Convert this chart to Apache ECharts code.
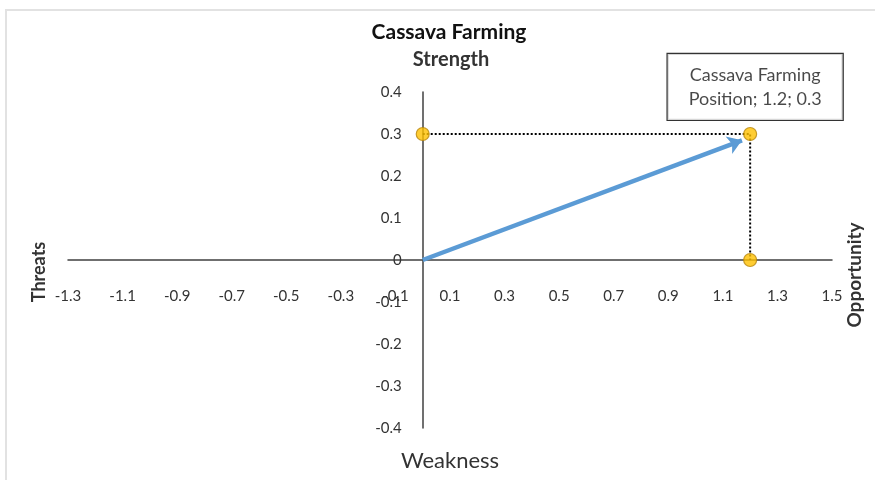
<!DOCTYPE html>
<html>
<head>
<meta charset="utf-8">
<script src="https://cdn.jsdelivr.net/npm/echarts@6/dist/echarts.min.js"></script>
<style>html,body{margin:0;padding:0;background:#fff}#c{width:875px;height:480px}</style>
</head>
<body>
<div id="c"></div>
<script>
// Data
const chartTitle = 'Cassava Farming';
const pointName = 'Cassava Farming Position';
const posX = [1.2];
const posY = [0.3];
const guideX = [0, 1.2, 1.2];
const guideY = [0.3, 0.3, 0];
const arrowFrom = [0, 0];
const arrowTo = [1.17, 0.285];
const xRange = [-1.3, 1.5];
const yRange = [-0.4, 0.4];
const axisNames = { top: 'Strength', bottom: 'Weakness', left: 'Threats', right: 'Opportunity' };

const FONT = 'Lato, "Open Sans", sans-serif';
const chart = echarts.init(document.getElementById('c'));

const W = 875, H = 480;
const G = { left: 68, right: 43, top: 92, bottom: 52 };
const gw = W - G.left - G.right, gh = H - G.top - G.bottom;
// place axes through the origin (onZero equivalent that also moves labels)
const xAxisOffset = -gh * (0 - yRange[0]) / (yRange[1] - yRange[0]);
const yAxisOffset = -gw * (0 - xRange[0]) / (xRange[1] - xRange[0]);

const guideData = guideX.map((x, i) => [x, guideY[i]]);
const pointData = guideData.map((p) => {
  const isMain = p[0] === posX[0] && p[1] === posY[0];
  return isMain ? {
    value: p,
    label: {
      show: true,
      position: 'top',
      distance: 7,
      offset: [5, 0],
      formatter: () => 'Cassava Farming\nPosition; ' + posX[0] + '; ' + posY[0],
      fontFamily: FONT,
      fontSize: 18,
      lineHeight: 24,
      color: '#1a1a1a',
      align: 'center',
      width: 135,
      backgroundColor: '#ffffff',
      borderColor: '#000',
      borderWidth: 1.2,
      padding: [9, 20, 9, 20]
    }
  } : { value: p };
});

const option = {
  backgroundColor: '#fff',
  animation: false,
  grid: { left: G.left, right: G.right, top: G.top, bottom: G.bottom, containLabel: false },
  xAxis: {
    type: 'value',
    position: 'bottom',
    offset: xAxisOffset,
    min: xRange[0], max: xRange[1], interval: 0.1,
    axisLine: { show: true, onZero: false, lineStyle: { color: '#404040', width: 1.5 } },
    axisTick: { show: false },
    splitLine: { show: false },
    axisLabel: {
      margin: 29,
      fontFamily: FONT, fontSize: 15, color: '#333',
      showMinLabel: true, showMaxLabel: true,
      formatter: (v) => (Math.abs(Math.round(v * 10)) % 2 === 1 ? v.toFixed(1) : '')
    }
  },
  yAxis: {
    type: 'value',
    position: 'left',
    offset: yAxisOffset,
    min: yRange[0], max: yRange[1], interval: 0.1,
    axisLine: { show: true, onZero: false, lineStyle: { color: '#404040', width: 1.5 } },
    axisTick: { show: false },
    splitLine: { show: false },
    axisLabel: {
      margin: 21,
      fontFamily: FONT, fontSize: 15, color: '#333',
      formatter: (v) => (Math.abs(v) < 1e-9 ? '0' : v.toFixed(1))
    }
  },
  graphic: [
    { type: 'rect', z: -10, shape: { x: 6, y: 10, width: 900, height: 500 }, style: { fill: 'none', stroke: '#e2e2e2', lineWidth: 2 } },
    { type: 'text', x: 449, y: 32, style: { text: chartTitle, font: 'bold 21px ' + FONT, fill: '#111', textAlign: 'center', textVerticalAlign: 'middle' } },
    { type: 'text', x: 451, y: 60, style: { text: axisNames.top, font: 'bold 20px ' + FONT, fill: '#333', textAlign: 'center', textVerticalAlign: 'middle' } },
    { type: 'text', x: 450, y: 461, style: { text: axisNames.bottom, font: '22px ' + FONT, fill: '#333', textAlign: 'center', textVerticalAlign: 'middle' } },
    { type: 'text', x: 39, y: 272, rotation: Math.PI / 2, style: { text: axisNames.left, font: 'bold 18px ' + FONT, fill: '#333', textAlign: 'center', textVerticalAlign: 'middle' } },
    { type: 'text', x: 855, y: 275, rotation: Math.PI / 2, style: { text: axisNames.right, font: 'bold 19px ' + FONT, fill: '#333', textAlign: 'center', textVerticalAlign: 'middle' } }
  ],
  series: [
    {
      type: 'line',
      data: guideData,
      symbol: 'none',
      lineStyle: { color: '#000', width: 2, type: [2, 2] },
      z: 2
    },
    {
      type: 'lines',
      coordinateSystem: 'cartesian2d',
      data: [{ coords: [arrowFrom, arrowTo] }],
      symbol: ['none', 'arrow'],
      symbolSize: [0, 14],
      lineStyle: { color: '#5B9BD5', width: 4.5, opacity: 1, curveness: 0 },
      z: 3
    },
    {
      type: 'scatter',
      name: pointName,
      data: pointData,
      symbol: 'circle',
      symbolSize: 13,
      itemStyle: { color: '#FFC000', borderColor: '#B8860B', borderWidth: 1.2 },
      z: 5
    }
  ]
};
chart.setOption(option);
</script>
</body>
</html>
